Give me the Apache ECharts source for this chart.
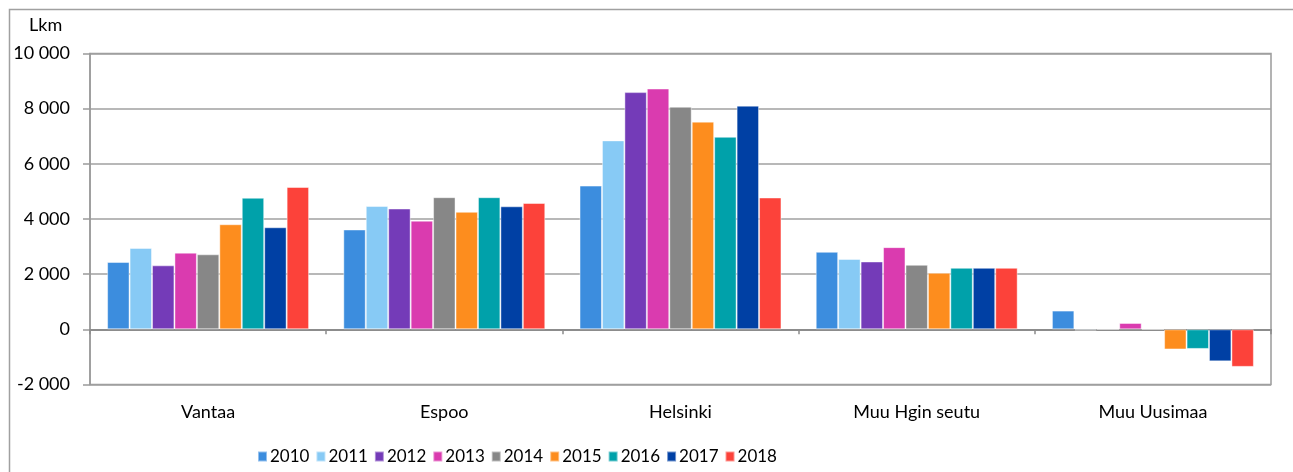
<!DOCTYPE html>
<html>
<head>
<meta charset="utf-8">
<script src="https://cdn.jsdelivr.net/npm/echarts@6/dist/echarts.min.js"></script>
<style>
html,body{margin:0;padding:0;background:#fff;}
#chart{width:1293px;height:472px;}
</style>
</head>
<body>
<div id="chart"></div>
<script>
const categories = ['Vantaa', 'Espoo', 'Helsinki', 'Muu Hgin seutu', 'Muu Uusimaa'];
const years = ['2010', '2011', '2012', '2013', '2014', '2015', '2016', '2017', '2018'];
const values2010 = [2440, 3620, 5210, 2810, 680];
const values2011 = [2950, 4470, 6850, 2550, -40];
const values2012 = [2320, 4380, 8600, 2460, 0];
const values2013 = [2780, 3940, 8730, 2980, 230];
const values2014 = [2720, 4790, 8070, 2340, 0];
const values2015 = [3810, 4260, 7530, 2050, -730];
const values2016 = [4770, 4790, 6980, 2230, -710];
const values2017 = [3700, 4460, 8110, 2230, -1160];
const values2018 = [5160, 4580, 4780, 2230, -1360];
const seriesValues = [values2010, values2011, values2012, values2013, values2014, values2015, values2016, values2017, values2018];
const colors = ['#3C8DDE', '#87CAF5', '#743BB8', '#DA3BAF', '#878787', '#FD8D1E', '#00A1AA', '#0040A4', '#FC423A'];
const yTicks = {min: -2000, max: 10000, interval: 2000};
const yName = 'Lkm';

const font = 'Lato, "Noto Sans", sans-serif';
const chart = echarts.init(document.getElementById('chart'), null, {renderer: 'canvas'});

const series = years.map((y, i) => ({
  name: y,
  type: 'bar',
  data: seriesValues[i],
  barGap: '0%',
  barCategoryGap: '14.5%',
  itemStyle: {color: colors[i], borderColor: 'rgba(255,255,255,0.45)', borderWidth: 1},
  emphasis: {disabled: true}
}));

chart.setOption({
  animation: false,
  color: colors,
  grid: {left: 90, right: 22, top: 53.5, bottom: 87.5, show: true, borderColor: '#9a9a9a', borderWidth: 1.5, containLabel: false},
  graphic: [
    {type: 'rect', left: 7, top: 7, shape: {width: 1285, height: 480}, style: {fill: 'none', stroke: '#a0a0a0', lineWidth: 1.5}, silent: true},
    {type: 'text', left: 29, top: 16, style: {text: yName, font: '18px ' + font, fill: '#000'}}
  ],
  legend: {
    data: years,
    left: 252,
    top: 443,
    icon: 'rect',
    itemWidth: 9,
    itemHeight: 10,
    itemGap: 6,
    textStyle: {fontFamily: font, fontSize: 17, color: '#000', padding: [0, 0, 0, -2]}
  },
  xAxis: {
    type: 'category',
    data: categories,
    axisLine: {onZero: true, lineStyle: {color: '#8c8c8c', width: 2}},
    axisTick: {show: true, length: 5, lineStyle: {color: '#8c8c8c', width: 1.5}},
    axisLabel: {margin: 19, fontFamily: font, fontSize: 18, color: '#000'},
    splitLine: {show: false}
  },
  yAxis: {
    type: 'value',
    min: yTicks.min,
    max: yTicks.max,
    interval: yTicks.interval,
    axisLine: {show: true, lineStyle: {color: '#9a9a9a', width: 1.5}},
    axisTick: {show: true, length: 7, lineStyle: {color: '#9a9a9a', width: 1.5}},
    axisLabel: {margin: 20, fontFamily: font, fontSize: 18, color: '#000',
      formatter: v => String(v).replace(/\B(?=(\d{3})+(?!\d))/g, ' ')},
    splitLine: {show: true, lineStyle: {color: '#a0a0a0', width: 1.5}}
  },
  series: series
});
</script>
</body>
</html>
